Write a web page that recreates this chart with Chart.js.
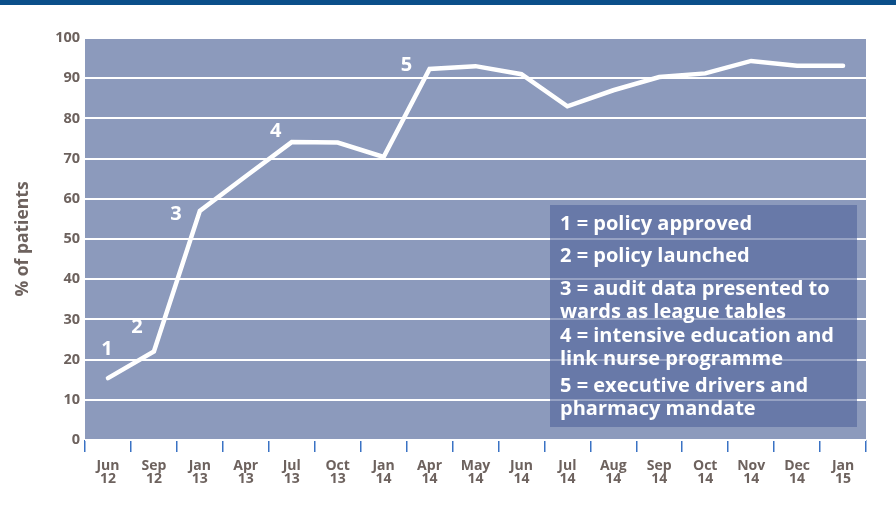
<!DOCTYPE html>
<html>
<head>
<meta charset="utf-8">
<script src="https://cdn.jsdelivr.net/npm/chart.js@4.4.1/dist/chart.umd.min.js"></script>
<style>
  html, body { margin: 0; padding: 0; background: #ffffff; }
  #wrap { width: 896px; height: 515px; position: relative; }
</style>
</head>
<body>
<div id="wrap"><canvas id="chart_patients"></canvas></div>
<script>
// months on the x axis (two-line labels)
var months = [
  ['Jun', '12'], ['Sep', '12'], ['Jan', '13'], ['Apr', '13'], ['Jul', '13'], ['Oct', '13'],
  ['Jan', '14'], ['Apr', '14'], ['May', '14'], ['Jun', '14'], ['Jul', '14'], ['Aug', '14'],
  ['Sep', '14'], ['Oct', '14'], ['Nov', '14'], ['Dec', '14'], ['Jan', '15']
];
// % of patients
var patientPct = [15.4, 22, 57, 65.6, 74.1, 74, 70.4, 92.3, 93, 91, 83, 87, 90.3, 91.2, 94.3, 93.1, 93.1];
// milestone markers, by category index
var milestoneIdx = [0, 1, 2, 4, 7];
var milestoneText = ['1', '2', '3', '4', '5'];
// key text, one entry per milestone
var keyItems = [
  ['1 = policy approved'],
  ['2 = policy launched'],
  ['3 = audit data presented to', 'wards as league tables'],
  ['4 = intensive education and', 'link nurse programme'],
  ['5 = executive drivers and', 'pharmacy mandate']
];

var FONT = '"Open Sans"';
var TXT = '#6d625e';

var chart_patients = new Chart(document.getElementById('chart_patients'), {
    type: 'line',
    data: {
        labels: months,
        datasets: [{
            label: '% of patients',
            data: patientPct,
            borderColor: '#ffffff',
            borderWidth: 4.5,
            borderCapStyle: 'round',
            borderJoinStyle: 'miter',
            pointRadius: 0,
            tension: 0,
            fill: false
        }]
    },
    options: {
        animation: false,
        responsive: true,
        maintainAspectRatio: false,
        layout: { padding: { left: 0, right: 30, top: 38, bottom: 0 } },
        plugins: {
            legend: { display: false },
            tooltip: { enabled: false }
        },
        scales: {
            x: {
                offset: true,
                grid: {
                    offset: true,
                    drawOnChartArea: false,
                    drawTicks: true,
                    tickLength: 12,
                    color: '#3a72c4',
                    lineWidth: 1.5
                },
                border: { display: false },
                ticks: {
                    maxRotation: 0,
                    autoSkip: false,
                    padding: 7,
                    color: TXT,
                    font: { family: FONT, size: 14, weight: 'bold', lineHeight: 0.95 }
                },
                afterFit: function(scale) { scale.height = 75; }
            },
            y: {
                min: 0,
                max: 100,
                grid: {
                    color: '#ffffff',
                    lineWidth: 2,
                    drawTicks: false
                },
                border: { display: false },
                ticks: {
                    stepSize: 10,
                    padding: 5,
                    color: TXT,
                    font: { family: FONT, size: 14.5, weight: 'bold' }
                },
                title: {
                    display: true,
                    text: '% of patients',
                    color: TXT,
                    padding: { top: 13, bottom: 0 },
                    font: { family: FONT, size: 17.5, weight: 'bold' }
                },
                afterFit: function(scale) { scale.width = 85; }
            }
        }
    },
    plugins: [{
        id: 'plotBackground',
        beforeDraw: (chart) => {
            const ctx = chart.ctx;
            const a = chart.chartArea;
            ctx.save();
            ctx.fillStyle = '#ffffff';
            ctx.fillRect(0, 0, chart.width, chart.height);
            // banner strip at the top
            ctx.fillStyle = '#0b4f8a';
            ctx.fillRect(0, 0, chart.width, 5);
            ctx.fillStyle = '#8c9abc';
            ctx.fillRect(a.left, a.top, a.right - a.left, a.bottom - a.top);
            ctx.restore();
        }
    }, {
        id: 'milestones',
        afterDatasetsDraw: (chart) => {
            const ctx = chart.ctx;
            const xs = chart.scales.x, ys = chart.scales.y;
            // label offsets from the point
            const off = [[-1, -29], [-17, -24], [-24, 3], [-16, -11], [-23, -4]];
            ctx.save();
            ctx.fillStyle = '#ffffff';
            ctx.font = 'bold 20px ' + FONT;
            ctx.textAlign = 'center';
            ctx.textBaseline = 'middle';
            milestoneIdx.forEach(function(i, k) {
                const px = xs.getPixelForValue(i);
                const py = ys.getPixelForValue(patientPct[i]);
                ctx.fillText(milestoneText[k], px + off[k][0], py + off[k][1]);
            });
            ctx.restore();
        }
    }, {
        id: 'keyBox',
        afterDatasetsDraw: (chart) => {
            const ctx = chart.ctx;
            const a = chart.chartArea;
            const bx = a.right - 316, by = a.top + 167, bw = 307, bh = 222;
            ctx.save();
            ctx.fillStyle = 'rgba(80,100,155,0.6)';
            ctx.fillRect(bx, by, bw, bh);
            ctx.fillStyle = '#ffffff';
            ctx.font = 'bold 20px ' + FONT;
            ctx.textAlign = 'left';
            ctx.textBaseline = 'middle';
            // vertical start of each item, then line spacing inside an item
            const itemY = [19, 51, 84, 131, 181];
            keyItems.forEach(function(lines, k) {
                lines.forEach(function(t, j) {
                    ctx.fillText(t, bx + 10, by + itemY[k] + j * 23);
                });
            });
            ctx.restore();
        }
    }]
});
</script>
</body>
</html>
